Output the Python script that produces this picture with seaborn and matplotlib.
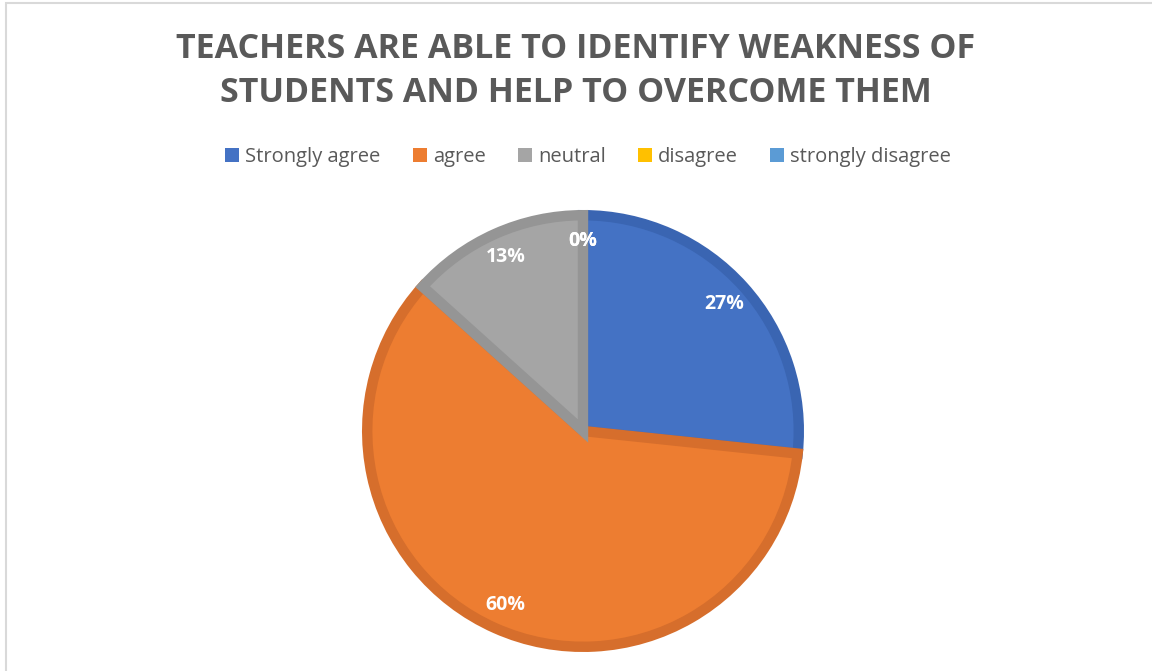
import matplotlib
matplotlib.use("Agg")
import matplotlib.pyplot as plt
import seaborn as sns
from matplotlib.patches import Rectangle

# survey answers (counts out of 15 respondents)
categories = ["Strongly agree", "agree", "neutral", "disagree", "strongly disagree"]
counts = [4, 9, 2, 0, 0]
title_text = "TEACHERS ARE ABLE TO IDENTIFY WEAKNESS OF\nSTUDENTS AND HELP TO OVERCOME THEM"

fill_colors = ["#4472C4", "#ED7D31", "#A5A5A5", "#FFC000", "#5B9BD5"]
edge_colors = ["#3A65B2", "#D66E2C", "#959595", "#E6AD00", "#4F8BC2"]

sns.set_theme(style="white")
plt.rcParams["font.family"] = ["Open Sans", "DejaVu Sans"]

W, H = 1152, 671
fig = plt.figure(figsize=(W / 100, H / 100), dpi=100)

# chart frame (only the left and top edges are visible in the crop)
fig.patches.append(Rectangle((6 / W, -0.1), 1.2, (H - 3) / H + 0.1,
                             transform=fig.transFigure, fill=False,
                             edgecolor="#D9D9D9", linewidth=1.5))

cx, cy, r = 583, 431, 221
edge_lw = 7.5  # points, ~10px
shrink = 1 - (edge_lw * 100 / 72 / 2) / r  # keep outer edge of the stroke on r

pie_ax = fig.add_axes([(cx - r) / W, (H - cy - r) / H, 2 * r / W, 2 * r / H])
wedges, texts, autotexts = pie_ax.pie(
    counts, colors=fill_colors, startangle=90, counterclock=False, radius=shrink,
    autopct=lambda p: f"{p:.0f}%", pctdistance=0.86 / shrink,
    wedgeprops=dict(linewidth=0),
    textprops=dict(color="white", fontsize=14, fontweight="bold"),
)
# darker border like the Office style
for w, ec, n in zip(wedges, edge_colors, counts):
    if n == 0:
        continue
    w.set_edgecolor(ec)
    w.set_linewidth(edge_lw)
    w.set_joinstyle("miter")
pie_ax.set_xlim(-1, 1)
pie_ax.set_ylim(-1, 1)
pie_ax.set_aspect("equal")

fig.text(0.5, 1 - 71 / H, title_text, ha="center", va="center", fontsize=24.5,
         fontweight="bold", color="#595959", linespacing=1.38)

handles = [Rectangle((0, 0), 1, 1, facecolor=c, edgecolor="none") for c in fill_colors]
fig.legend(handles, categories, loc="center", bbox_to_anchor=(0.5 + 12 / W, 1 - 157 / H),
           ncol=5, frameon=False, fontsize=14.5, handlelength=0.7, handleheight=0.7,
           handletextpad=0.3, columnspacing=1.6, labelcolor="#595959")

fig.savefig("out.png", dpi=100)
